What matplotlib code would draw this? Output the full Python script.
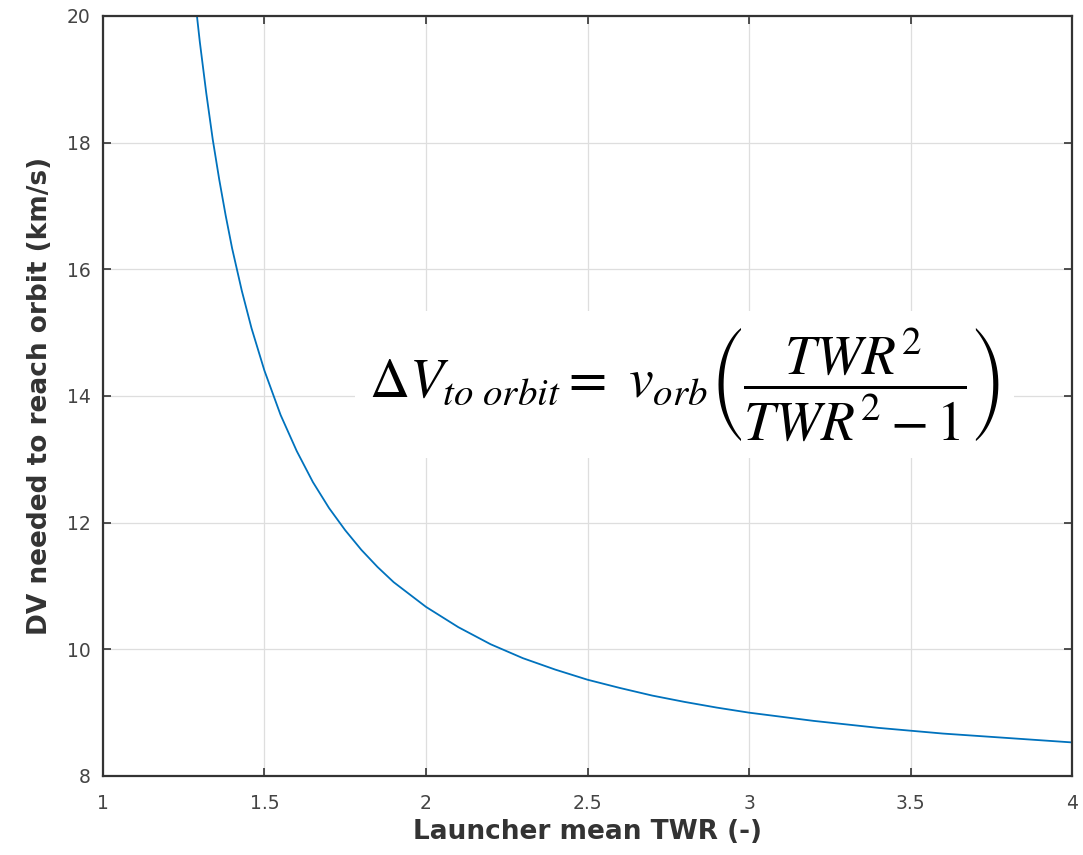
import numpy as np
import matplotlib
matplotlib.use('Agg')
import matplotlib.pyplot as plt

# values
twr = [1.29, 1.30, 1.32, 1.34, 1.36, 1.38, 1.40, 1.43, 1.46, 1.50,
       1.55, 1.60, 1.65, 1.70, 1.75, 1.80, 1.85, 1.90, 2.00, 2.10,
       2.20, 2.30, 2.40, 2.50, 2.60, 2.70, 2.80, 2.90, 3.00, 3.20,
       3.40, 3.60, 3.80, 4.00]
dv = [20.05, 19.59, 18.78, 18.05, 17.42, 16.85, 16.33, 15.66, 15.07, 14.40,
      13.70, 13.13, 12.64, 12.23, 11.88, 11.57, 11.30, 11.06, 10.67, 10.35,
      10.08, 9.86, 9.68, 9.52, 9.39, 9.27, 9.17, 9.08, 9.00, 8.87,
      8.76, 8.67, 8.60, 8.53]

xticks = [1, 1.5, 2, 2.5, 3, 3.5, 4]
xticklabels = ['1', '1.5', '2', '2.5', '3', '3.5', '4']
yticks = [8, 10, 12, 14, 16, 18, 20]

plt.rcParams['font.family'] = ['DejaVu Sans']
plt.rcParams['mathtext.fontset'] = 'stix'

fig = plt.figure(figsize=(10.83, 8.55), dpi=100)
ax = fig.add_axes([0.095, 0.0924, 0.895, 0.889])

ax.plot(twr, dv, color='#0072BD', lw=1.3)
ax.set_xlim(1, 4)
ax.set_ylim(8, 20)
ax.set_xticks(xticks)
ax.set_xticklabels(xticklabels)
ax.set_yticks(yticks)
ax.grid(True, color='#dedede', lw=0.9)
ax.set_axisbelow(True)

for s in ax.spines.values():
    s.set_color('#333333')
    s.set_linewidth(1.6)
ax.tick_params(direction='in', length=6, width=1.2, top=True, right=True,
               labelsize=13.5, colors='#333333', labelcolor='#444444')
ax.tick_params(axis='x', pad=13)
ax.tick_params(axis='y', pad=9)

ax.set_xlabel('Launcher mean TWR (-)', fontsize=19, fontweight='bold',
              color='#333333', labelpad=4)
ax.set_ylabel('DV needed to reach orbit (km/s)', fontsize=19, fontweight='bold',
              color='#333333', labelpad=10)

# equation box (white background hides grid lines)
ax.text(0.6, 0.515,
        r'$\Delta V_{to\ orbit} =\ v_{orb}\left(\dfrac{TWR^2}{TWR^2-1}\right)$',
        transform=ax.transAxes, ha='center', va='center', fontsize=40,
        color='black',
        bbox=dict(facecolor='white', edgecolor='none', pad=10))

fig.savefig('out.png', dpi=100)
